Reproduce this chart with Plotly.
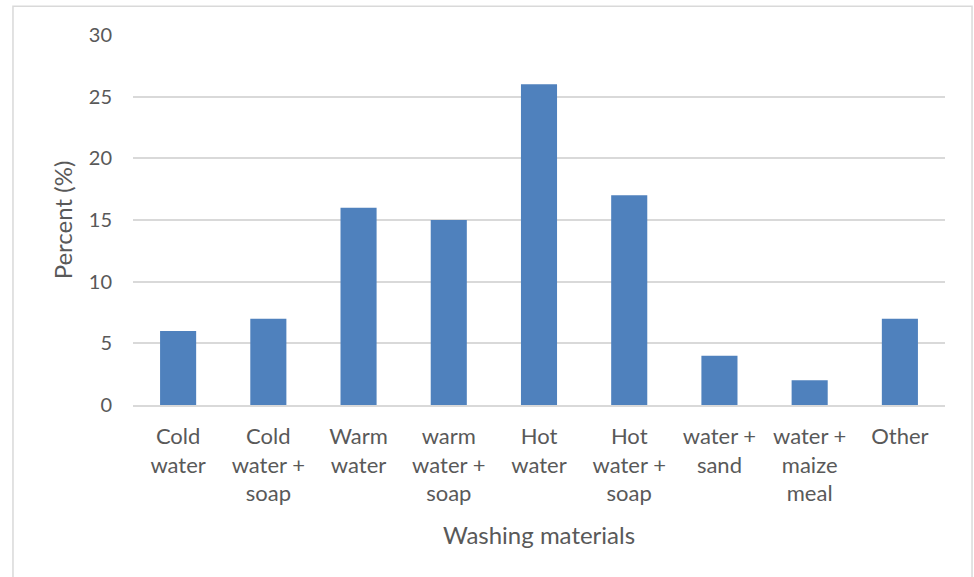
import plotly.graph_objects as go

categories = ["Cold<br>water", "Cold<br>water +<br>soap", "Warm<br>water", "warm<br>water +<br>soap",
              "Hot<br>water", "Hot<br>water +<br>soap", "water +<br>sand", "water +<br>maize<br>meal", "Other"]
percent = [6, 7, 16, 15, 26, 17, 4, 2, 7]
y_ticks = [0, 5, 10, 15, 20, 25, 30]

text_color = "#595959"
font_family = "Lato, 'Open Sans', sans-serif"

fig = go.Figure(go.Bar(
    x=categories,
    y=percent,
    marker=dict(color="#4F81BD", line=dict(width=0)),
    width=0.4,
))

fig.update_layout(
    width=974, height=577,
    margin=dict(l=133, r=29, t=35, b=172),
    plot_bgcolor="white", paper_bgcolor="white",
    showlegend=False,
    font=dict(family=font_family, color=text_color, size=20),
    xaxis=dict(
        title=dict(text="Washing materials", font=dict(size=24), standoff=22),
        showgrid=False,
        showline=True, linecolor="#D9D9D9", linewidth=1.5,
        tickfont=dict(size=22),
        ticks="", ticklabelstandoff=11,
    ),
    yaxis=dict(
        title=dict(text="Percent (%)", font=dict(size=24), standoff=9),
        range=[0, 30],
        tickvals=y_ticks,
        showgrid=True, gridcolor="#D9D9D9", gridwidth=1.5,
        zeroline=False,
        tickfont=dict(size=20),
        ticks="", ticklabelstandoff=20,
    ),
    shapes=[dict(
        type="rect", xref="paper", yref="paper",
        x0=-0.1478, x1=1.0333, y0=-0.48, y1=1.078,
        line=dict(color="#D9D9D9", width=1.5),
        fillcolor="rgba(0,0,0,0)", layer="below",
    )],
)

fig.write_html("out.html")
